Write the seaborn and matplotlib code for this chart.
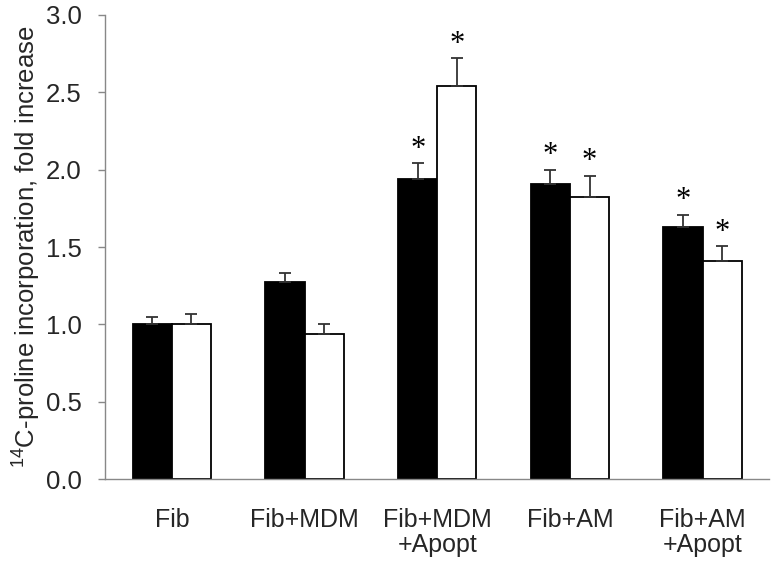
import numpy as np
import pandas as pd
import matplotlib
matplotlib.use("Agg")
import matplotlib.pyplot as plt
import seaborn as sns

categories = ["Fib", "Fib+MDM", "Fib+MDM\n+Apopt", "Fib+AM", "Fib+AM\n+Apopt"]
black_vals = [1.00, 1.275, 1.94, 1.91, 1.63]
black_err = [0.05, 0.06, 0.10, 0.09, 0.08]
white_vals = [1.00, 0.94, 2.54, 1.825, 1.41]
white_err = [0.07, 0.06, 0.18, 0.135, 0.095]
black_sig = [False, False, True, True, True]
white_sig = [False, False, True, True, True]

sns.set_style("white")
plt.rcParams["font.family"] = ["Liberation Sans", "DejaVu Sans"]
plt.rcParams["mathtext.default"] = "regular"

df = pd.DataFrame({
    "Group": categories * 2,
    "Value": black_vals + white_vals,
    "Series": ["black"] * 5 + ["white"] * 5,
})

fig = plt.figure(figsize=(7.78, 5.65), dpi=100)
ax = fig.add_axes([0.1356, 0.152, 0.8528, 0.8215])

sns.barplot(data=df, x="Group", y="Value", hue="Series", order=categories,
            palette={"black": "black", "white": "white"}, edgecolor="black",
            linewidth=1.3, width=0.59, errorbar=None, legend=False, ax=ax)

errs = [black_err, white_err]
sigs = [black_sig, white_sig]
vals = [black_vals, white_vals]
bar_conts = list(ax.containers)
for i, cont in enumerate(bar_conts):
    xs = [p.get_x() + p.get_width() / 2 for p in cont]
    ax.errorbar(xs, vals[i], yerr=[np.zeros(5), errs[i]], fmt="none",
                ecolor="#333333", elinewidth=1.3, capsize=4.5, capthick=1.3, zorder=1)
    for x, v, e, s in zip(xs, vals[i], errs[i], sigs[i]):
        if s:
            ax.text(x, v + e + 0.09, "*", ha="center", va="center",
                    fontsize=22, family="Liberation Serif", color="black")

ax.set_ylim(0, 3.0)
ax.set_xlim(-0.5, 4.5)
ax.set_yticks(np.arange(0, 3.01, 0.5))
ax.set_yticklabels([f"{t:.1f}" for t in np.arange(0, 3.01, 0.5)], fontsize=18.5)
ax.set_xticks(range(5))
ax.set_xticklabels(categories, fontsize=18, linespacing=1.05)
ax.set_xticks(np.arange(-0.5, 4.6, 1.0), minor=True)
ax.tick_params(axis="x", which="major", length=0, pad=21)
ax.tick_params(axis="x", which="minor", length=6, width=1, color="#888888", direction="out")
ax.tick_params(axis="y", length=5, width=1, color="#888888", direction="out", left=True, pad=12)

for side in ["top", "right"]:
    ax.spines[side].set_visible(False)
for side in ["left", "bottom"]:
    ax.spines[side].set_color("#888888")
    ax.spines[side].set_linewidth(1)

ax.set_xlabel("")
ax.set_ylabel("$^{14}$C-proline incorporation, fold increase", fontsize=18.5, labelpad=2)

fig.savefig("out.png", dpi=100)
